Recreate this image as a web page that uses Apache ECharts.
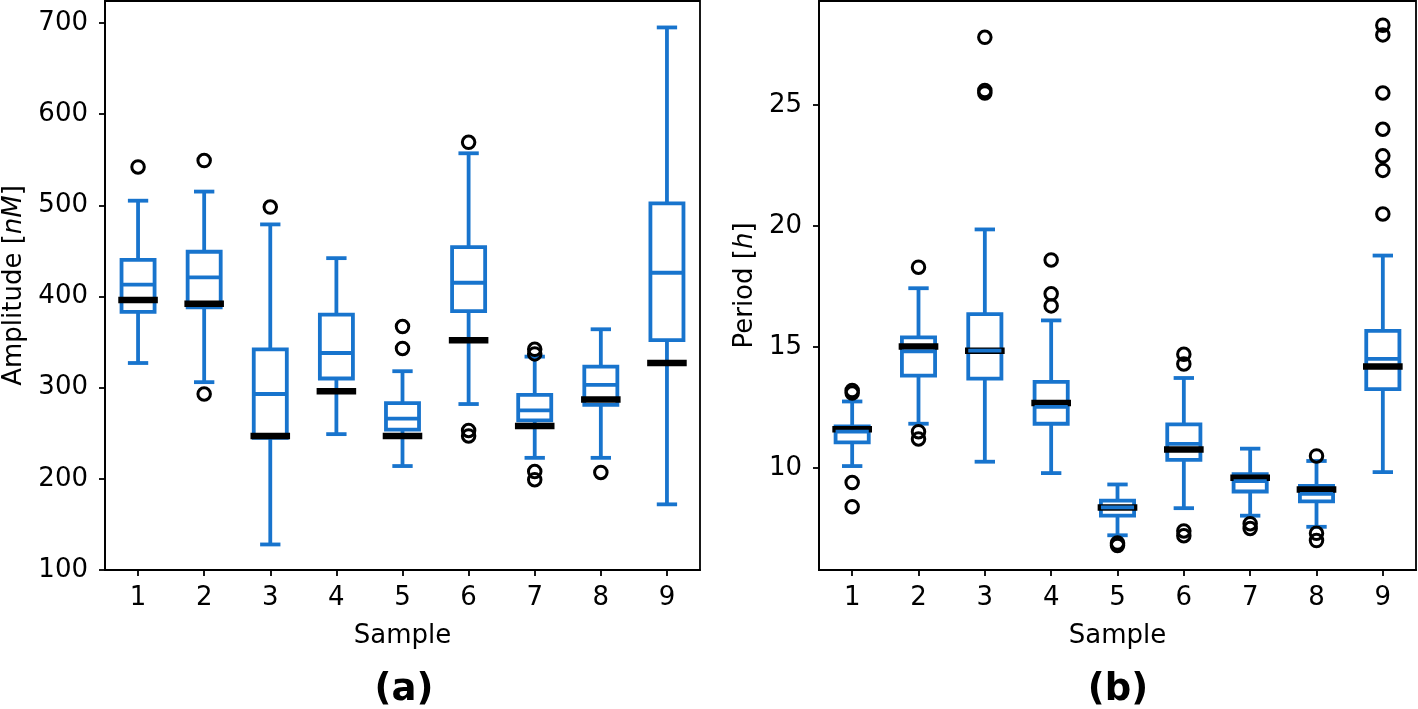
<!DOCTYPE html>
<html>
<head>
<meta charset="utf-8">
<script src="https://cdn.jsdelivr.net/npm/echarts@6/dist/echarts.min.js"></script>
<style>
html,body{margin:0;padding:0;background:#fff;}
#chart{width:1418px;height:709px;}
</style>
</head>
<body>
<div id="chart"></div>
<script>
const categories = ['1','2','3','4','5','6','7','8','9'];

// Panel (a): Amplitude [nM]
const ampLow    = [327, 306, 128, 249, 214, 282, 223, 223, 172];
const ampQ1     = [383, 388, 245, 310, 254, 384, 264, 281, 352];
const ampMedian = [413, 421, 293, 338, 266, 415, 275, 303, 426];
const ampQ3     = [440, 449, 342, 380, 283, 454, 292, 323, 502];
const ampHigh   = [505, 515, 479, 442, 318, 557, 334, 364, 695];
const ampMean   = [396, 392, 247, 296, 247, 352, 258, 287, 327];
const ampOutliers = [[542], [549, 293], [498], [], [367, 343], [569, 253, 247], [342, 337, 208, 199], [207], []];
const ampTicks = [100, 200, 300, 400, 500, 600, 700];

// Panel (b): Period [h]
const perLow    = [10.08, 11.83, 10.26, 9.79, 7.22, 8.34, 8.03, 7.57, 9.83];
const perQ1     = [11.06, 13.82, 13.69, 11.83, 8.03, 10.34, 9.03, 8.62, 13.26];
const perMedian = [11.50, 14.82, 14.85, 12.53, 8.37, 11.00, 9.46, 8.93, 14.51];
const perQ3     = [11.72, 15.40, 16.36, 13.56, 8.65, 11.80, 9.75, 9.26, 15.67];
const perHigh   = [12.75, 17.43, 19.86, 16.10, 9.32, 13.72, 10.80, 10.29, 18.78];
const perMean   = [11.60, 15.02, 14.85, 12.69, 8.37, 10.77, 9.60, 9.11, 14.20];
const perOutliers = [[13.2, 13.1, 9.4, 8.4], [18.3, 11.5, 11.2], [27.8, 25.6, 25.5], [18.6, 17.2, 16.7], [6.9, 6.8], [14.7, 14.3, 7.4, 7.2], [7.7, 7.5], [10.5, 7.3, 7.0], [28.3, 27.9, 25.5, 24.0, 22.9, 22.3, 20.5]];
const perTicks = [10, 15, 20, 25];

const BLUE = '#1874cd';
const FONT = 'DejaVu Sans';
const FS = 26;

function boxData(low, q1, med, q3, high, mean) {
  return categories.map((c, i) => [i, low[i], q1[i], med[i], q3[i], high[i], mean[i]]);
}
function outlierData(outs) {
  const d = [];
  outs.forEach((arr, i) => arr.forEach(v => d.push([i, v])));
  return d;
}

function renderBox(params, api) {
  const xi = api.value(0);
  const cw = api.size([1, 0])[0];
  const bw = cw * 0.5, capw = cw * 0.25;
  const cx = api.coord([xi, api.value(1)])[0];
  const y = k => api.coord([xi, api.value(k)])[1];
  const yLow = y(1), yQ1 = y(2), yMed = y(3), yQ3 = y(4), yHigh = y(5), yMean = y(6);
  const ln = (x1, y1, x2, y2, stroke, lw, cap) => ({
    type: 'line', shape: {x1, y1, x2, y2},
    style: {stroke, lineWidth: lw, lineCap: cap || 'butt'}
  });
  const LW = 3.8;
  return {
    type: 'group',
    children: [
      ln(cx, yLow, cx, yQ1, BLUE, LW),
      ln(cx, yQ3, cx, yHigh, BLUE, LW),
      ln(cx - capw / 2, yLow, cx + capw / 2, yLow, BLUE, LW, 'square'),
      ln(cx - capw / 2, yHigh, cx + capw / 2, yHigh, BLUE, LW, 'square'),
      {type: 'rect', shape: {x: cx - bw / 2, y: yQ3, width: bw, height: yQ1 - yQ3},
       style: {fill: 'none', stroke: BLUE, lineWidth: LW, lineJoin: 'miter'}},
      ln(cx - bw / 2, yMean, cx + bw / 2, yMean, '#000', 6.5, 'square'),
      ln(cx - bw / 2, yMed, cx + bw / 2, yMed, BLUE, LW, 'butt')
    ]
  };
}

function xAxisCfg(gi) {
  return {
    type: 'category', gridIndex: gi, data: categories, boundaryGap: true,
    axisLine: {show: true, lineStyle: {color: '#000', width: 1.8}},
    axisTick: {show: true, alignWithLabel: true, length: 6, lineStyle: {color: '#000', width: 1.8}},
    axisLabel: {color: '#000', fontSize: FS, fontFamily: FONT, margin: 15},
    splitLine: {show: false},
    name: 'Sample', nameLocation: 'middle', nameGap: 53,
    nameTextStyle: {color: '#000', fontSize: FS, fontFamily: FONT}
  };
}
function yAxisCfg(gi, min, max, ticks, name, nameGap) {
  return {
    type: 'value', gridIndex: gi, min: min, max: max,
    axisLine: {show: true, lineStyle: {color: '#000', width: 1.8}},
    axisTick: {show: true, length: 6, customValues: ticks, lineStyle: {color: '#000', width: 1.8}},
    axisLabel: {color: '#000', fontSize: FS, fontFamily: FONT, margin: 17, customValues: ticks},
    splitLine: {show: false},
    name: name, nameLocation: 'middle', nameGap: nameGap, nameRotate: 90,
    nameTextStyle: {color: '#000', fontSize: FS, fontFamily: FONT,
      rich: {i: {fontStyle: 'italic', fontSize: FS, fontFamily: FONT, color: '#000'}}}
  };
}

const chart = echarts.init(document.getElementById('chart'), null, {renderer: 'canvas'});
chart.setOption({
  animation: false,
  backgroundColor: '#fff',
  grid: [
    {left: 104, top: 1, width: 596, height: 569, show: true, borderColor: '#000', borderWidth: 1.8, containLabel: false},
    {left: 819, top: 1, width: 597, height: 569, show: true, borderColor: '#000', borderWidth: 1.8, containLabel: false}
  ],
  xAxis: [xAxisCfg(0), xAxisCfg(1)],
  yAxis: [
    yAxisCfg(0, 100, 724, ampTicks, 'Amplitude [{i|nM}]', 78),
    yAxisCfg(1, 5.785, 29.3, perTicks, 'Period [{i|h}]', 61)
  ],
  series: [
    {type: 'custom', xAxisIndex: 0, yAxisIndex: 0, renderItem: renderBox,
     data: boxData(ampLow, ampQ1, ampMedian, ampQ3, ampHigh, ampMean),
     encode: {x: 0, y: [1, 2, 3, 4, 5, 6]}, z: 2},
    {type: 'custom', xAxisIndex: 1, yAxisIndex: 1, renderItem: renderBox,
     data: boxData(perLow, perQ1, perMedian, perQ3, perHigh, perMean),
     encode: {x: 0, y: [1, 2, 3, 4, 5, 6]}, z: 2},
    {type: 'scatter', xAxisIndex: 0, yAxisIndex: 0, data: outlierData(ampOutliers),
     symbol: 'circle', symbolSize: 12.5,
     itemStyle: {color: 'rgba(0,0,0,0)', borderColor: '#000', borderWidth: 3, opacity: 1}, z: 3},
    {type: 'scatter', xAxisIndex: 1, yAxisIndex: 1, data: outlierData(perOutliers),
     symbol: 'circle', symbolSize: 12.5,
     itemStyle: {color: 'rgba(0,0,0,0)', borderColor: '#000', borderWidth: 3, opacity: 1}, z: 3}
  ],
  graphic: [
    {type: 'text', x: 404, y: 690, style: {text: '(a)', font: 'bold 37px "DejaVu Sans"', fill: '#000', textAlign: 'center', textVerticalAlign: 'middle'}},
    {type: 'text', x: 1118, y: 690, style: {text: '(b)', font: 'bold 37px "DejaVu Sans"', fill: '#000', textAlign: 'center', textVerticalAlign: 'middle'}}
  ]
});
</script>
</body>
</html>
